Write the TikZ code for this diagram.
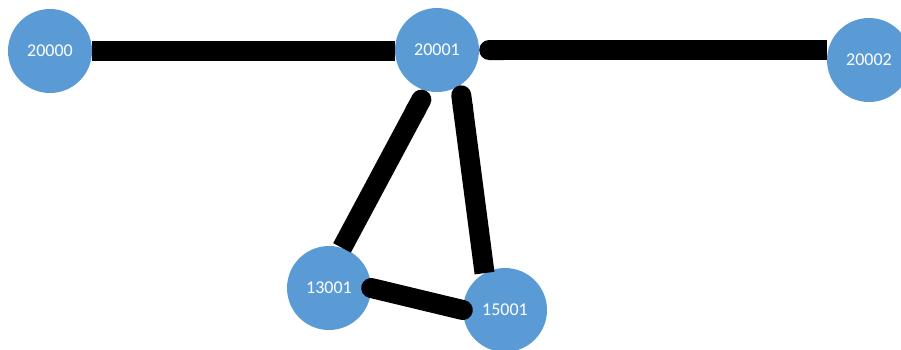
\documentclass[tikz,border=0pt]{standalone}
\usepackage{fontspec}
\newfontfamily\labelfont{Carlito}
\usetikzlibrary{arrows.meta}

\definecolor{portblue}{HTML}{5B9BD5}

\tikzset{
  port/.style={circle, fill=portblue, minimum size=84pt, inner sep=0pt,
               text=white, font=\labelfont\fontsize{18}{20}\selectfont},
  link/.style={line width=20pt, black}
}

\begin{document}
\begin{tikzpicture}[x=1pt, y=-1pt]
  \useasboundingbox (0,0) rectangle (901,349);
  \begin{scope}
    \clip (0,0) rectangle (901,349);
    % ports
    \node[port] (p20000) at (50,51) {20000};
    \node[port] (p20001) at (437,50) {20001};
    \node[port] (p20002) at (869,60) {20002};
    \node[port] (p13001) at (329,288) {13001};
    \node[port] (p15001) at (505,310) {15001};

    % links
    \draw[link] (p20000.east) -- (p20001.west |- p20000.east);
    \draw[link, {Round Cap[]}-] (p20001.east) -- (p20002.west |- p20001.east);
    \draw[link, {Round Cap[]}-] (p20001.255) -- (p13001.72);
    \draw[link, {Round Cap[]}-] (p20001.303) -- (p15001.119);
    \draw[link, line cap=round] (p13001.east) -- (p15001.west);
  \end{scope}
\end{tikzpicture}
\end{document}
